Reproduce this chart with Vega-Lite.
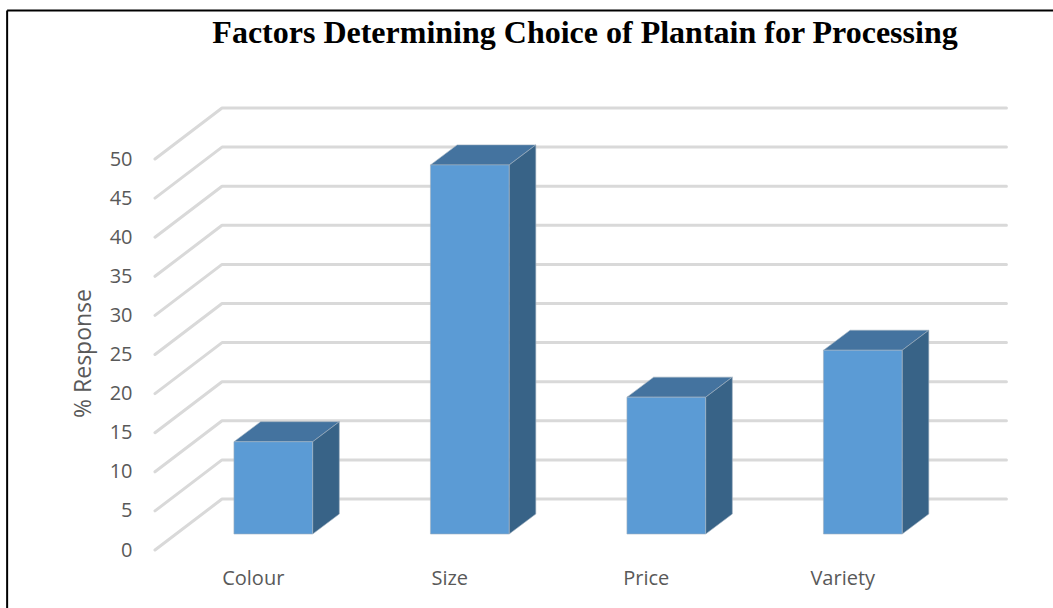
{
  "$schema": "https://vega.github.io/schema/vega-lite/v6.json",
  "width": 786,
  "height": 391,
  "autosize": "none",
  "padding": {"left": 155, "top": 159, "right": 112, "bottom": 58},
  "background": "white",
  "title": {
    "text": "Factors Determining Choice of Plantain for Processing",
    "font": "Liberation Serif",
    "fontSize": 32,
    "fontWeight": "bold",
    "color": "#000000",
    "anchor": "middle",
    "dx": 37,
    "offset": -44
  },
  "datasets": {
    "responses": [
      {"factor": "Colour", "response": 11.8},
      {"factor": "Size", "response": 47.2},
      {"factor": "Price", "response": 17.5},
      {"factor": "Variety", "response": 23.5}
    ],
    "sideFaces": [
      {"factor": "Colour", "slot": 0.8025, "low": 0, "high": 11.8},
      {"factor": "Colour", "slot": 0.938, "low": 2.56, "high": 14.36},
      {"factor": "Size", "slot": 1.8025, "low": 0, "high": 47.2},
      {"factor": "Size", "slot": 1.938, "low": 2.56, "high": 49.76},
      {"factor": "Price", "slot": 2.8025, "low": 0, "high": 17.5},
      {"factor": "Price", "slot": 2.938, "low": 2.56, "high": 20.06},
      {"factor": "Variety", "slot": 3.8025, "low": 0, "high": 23.5},
      {"factor": "Variety", "slot": 3.938, "low": 2.56, "high": 26.06}
    ],
    "topFaces": [
      {"factor": "Colour", "slot": 0.402, "low": 11.8, "high": 11.8},
      {"factor": "Colour", "slot": 0.5375, "low": 11.8, "high": 14.36},
      {"factor": "Colour", "slot": 0.8025, "low": 11.8, "high": 14.36},
      {"factor": "Colour", "slot": 0.938, "low": 14.36, "high": 14.36},
      {"factor": "Size", "slot": 1.402, "low": 47.2, "high": 47.2},
      {"factor": "Size", "slot": 1.5375, "low": 47.2, "high": 49.76},
      {"factor": "Size", "slot": 1.8025, "low": 47.2, "high": 49.76},
      {"factor": "Size", "slot": 1.938, "low": 49.76, "high": 49.76},
      {"factor": "Price", "slot": 2.402, "low": 17.5, "high": 17.5},
      {"factor": "Price", "slot": 2.5375, "low": 17.5, "high": 20.06},
      {"factor": "Price", "slot": 2.8025, "low": 17.5, "high": 20.06},
      {"factor": "Price", "slot": 2.938, "low": 20.06, "high": 20.06},
      {"factor": "Variety", "slot": 3.402, "low": 23.5, "high": 23.5},
      {"factor": "Variety", "slot": 3.5375, "low": 23.5, "high": 26.06},
      {"factor": "Variety", "slot": 3.8025, "low": 23.5, "high": 26.06},
      {"factor": "Variety", "slot": 3.938, "low": 26.06, "high": 26.06}
    ],
    "wall": [
      {"level": 0, "slot": 0, "height": 0}, {"level": 0, "slot": 0.341, "height": 6.52}, {"level": 0, "slot": 4.333, "height": 6.52},
      {"level": 5, "slot": 0, "height": 5}, {"level": 5, "slot": 0.341, "height": 11.52}, {"level": 5, "slot": 4.333, "height": 11.52},
      {"level": 10, "slot": 0, "height": 10}, {"level": 10, "slot": 0.341, "height": 16.52}, {"level": 10, "slot": 4.333, "height": 16.52},
      {"level": 15, "slot": 0, "height": 15}, {"level": 15, "slot": 0.341, "height": 21.52}, {"level": 15, "slot": 4.333, "height": 21.52},
      {"level": 20, "slot": 0, "height": 20}, {"level": 20, "slot": 0.341, "height": 26.52}, {"level": 20, "slot": 4.333, "height": 26.52},
      {"level": 25, "slot": 0, "height": 25}, {"level": 25, "slot": 0.341, "height": 31.52}, {"level": 25, "slot": 4.333, "height": 31.52},
      {"level": 30, "slot": 0, "height": 30}, {"level": 30, "slot": 0.341, "height": 36.52}, {"level": 30, "slot": 4.333, "height": 36.52},
      {"level": 35, "slot": 0, "height": 35}, {"level": 35, "slot": 0.341, "height": 41.52}, {"level": 35, "slot": 4.333, "height": 41.52},
      {"level": 40, "slot": 0, "height": 40}, {"level": 40, "slot": 0.341, "height": 46.52}, {"level": 40, "slot": 4.333, "height": 46.52},
      {"level": 45, "slot": 0, "height": 45}, {"level": 45, "slot": 0.341, "height": 51.52}, {"level": 45, "slot": 4.333, "height": 51.52},
      {"level": 50, "slot": 0, "height": 50}, {"level": 50, "slot": 0.341, "height": 56.52}, {"level": 50, "slot": 4.333, "height": 56.52}
    ],
    "border": [
      {"edge": "left", "slot": -0.7525, "height": -8},
      {"edge": "left", "slot": -0.7525, "height": 69},
      {"edge": "top", "slot": -0.7525, "height": 69},
      {"edge": "top", "slot": 4.58, "height": 69}
    ]
  },
  "layer": [
    {
      "description": "Page border",
      "data": {"name": "border"},
      "mark": {"type": "line", "color": "#000000", "strokeWidth": 2, "clip": false},
      "encoding": {
        "x": {"field": "slot", "type": "quantitative", "scale": {"domain": [0, 4], "nice": false, "zero": false}, "axis": null},
        "y": {"field": "height", "type": "quantitative", "scale": {"domain": [0, 50], "nice": false}, "axis": null},
        "detail": {"field": "edge"}
      }
    },
    {
      "description": "Gridlines running along the side wall and the back wall",
      "data": {"name": "wall"},
      "mark": {"type": "line", "color": "#d9d9d9", "strokeWidth": 3, "strokeCap": "round", "strokeJoin": "round", "clip": false},
      "encoding": {
        "x": {"field": "slot", "type": "quantitative", "scale": {"domain": [0, 4], "nice": false, "zero": false}, "axis": null},
        "y": {"field": "height", "type": "quantitative", "scale": {"domain": [0, 50], "nice": false}, "axis": null},
        "detail": {"field": "level"}
      }
    },
    {
      "description": "Top faces of the columns",
      "data": {"name": "topFaces"},
      "mark": {"type": "area", "orient": "vertical", "color": "#44739f", "stroke": "#9fb0c0", "strokeWidth": 0.6, "yOffset": -16, "y2Offset": -16, "clip": false},
      "encoding": {
        "x": {"field": "slot", "type": "quantitative", "scale": {"domain": [0, 4], "nice": false, "zero": false}, "axis": null},
        "y": {"field": "high", "type": "quantitative", "stack": null, "scale": {"domain": [0, 50], "nice": false}, "axis": null},
        "y2": {"field": "low"},
        "detail": {"field": "factor"}
      }
    },
    {
      "description": "Side faces of the columns",
      "data": {"name": "sideFaces"},
      "mark": {"type": "area", "orient": "vertical", "color": "#386387", "stroke": "#9fb0c0", "strokeWidth": 0.6, "yOffset": -16, "y2Offset": -16, "clip": false},
      "encoding": {
        "x": {"field": "slot", "type": "quantitative", "scale": {"domain": [0, 4], "nice": false, "zero": false}, "axis": null},
        "y": {"field": "high", "type": "quantitative", "stack": null, "scale": {"domain": [0, 50], "nice": false}, "axis": null},
        "y2": {"field": "low"},
        "detail": {"field": "factor"}
      }
    },
    {
      "description": "Front faces of the columns, with both axes",
      "data": {"name": "responses"},
      "mark": {"type": "bar", "color": "#5b9bd5", "stroke": "#9fb0c0", "strokeWidth": 0.6, "xOffset": 20, "x2Offset": 20, "yOffset": -16, "y2Offset": -16, "clip": false},
      "encoding": {
        "x": {
          "field": "factor",
          "type": "nominal",
          "sort": null,
          "scale": {"paddingInner": 0.6, "paddingOuter": 0.3},
          "axis": {
            "title": null,
            "domain": false,
            "ticks": false,
            "labelAngle": 0,
            "labelPadding": 18,
            "labelFont": "Open Sans",
            "labelFontSize": 20,
            "labelColor": "#595959"
          }
        },
        "y": {
          "field": "response",
          "type": "quantitative",
          "stack": null,
          "scale": {"domain": [0, 50], "nice": false},
          "axis": {
            "title": "% Response",
            "values": [0, 5, 10, 15, 20, 25, 30, 35, 40, 45, 50],
            "grid": false,
            "domain": false,
            "ticks": false,
            "labelPadding": 23,
            "labelFont": "Open Sans",
            "labelFontSize": 20,
            "labelColor": "#595959",
            "titleFont": "Open Sans",
            "titleFontSize": 23,
            "titleFontWeight": "normal",
            "titleColor": "#595959",
            "titleX": -60,
            "titleY": 194
          }
        },
        "y2": {"datum": 0}
      }
    }
  ],
  "resolve": {"scale": {"x": "independent"}, "axis": {"y": "independent"}},
  "config": {"view": {"stroke": null}}
}
